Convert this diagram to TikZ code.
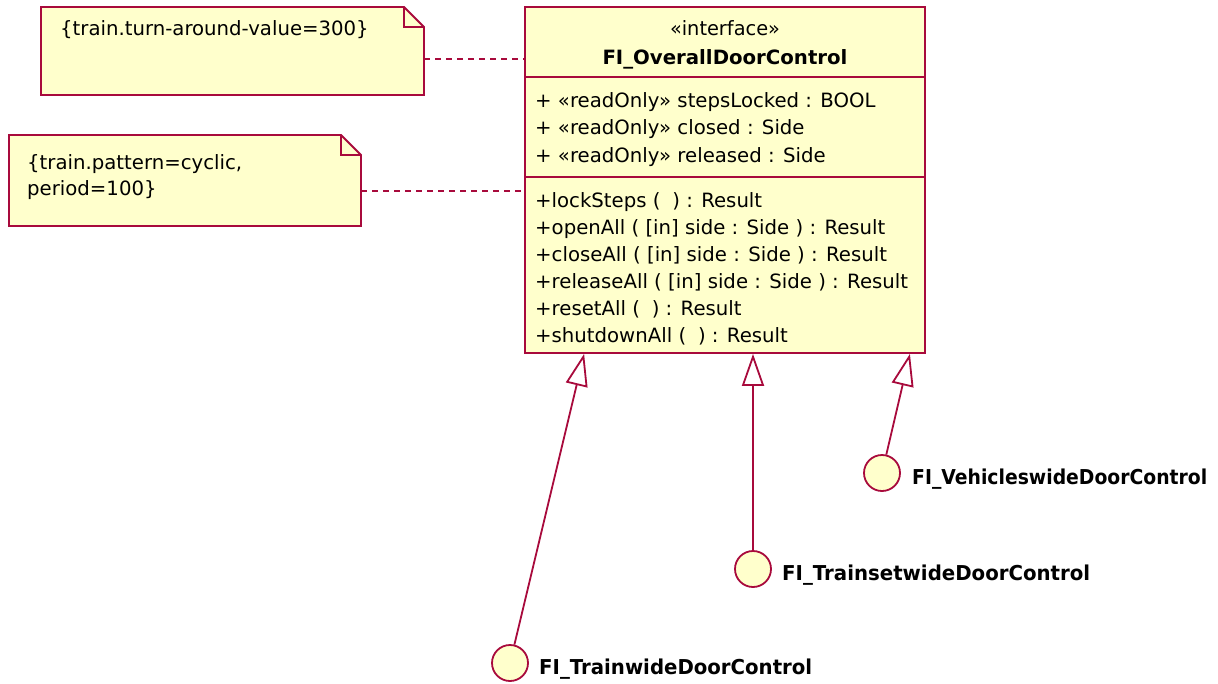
\documentclass[tikz,border=0pt]{standalone}
\usepackage{fontspec}
\setmainfont{DejaVu Sans}
\usetikzlibrary{arrows.meta}
\definecolor{umlred}{RGB}{168,10,60}
\definecolor{umlfill}{RGB}{255,255,204}
\tikzset{
  txt/.style={inner sep=0pt, font=\fontsize{19.7}{27}\selectfont, text=black},
  outline/.style={draw=umlred, line width=1.8pt, fill=umlfill, line join=miter},
  sep/.style={draw=umlred, line width=1.8pt},
  link/.style={draw=umlred, line width=1.6pt, dash pattern=on 6pt off 5pt},
  realize/.style={draw=umlred, line width=1.8pt, -{Triangle[open, length=32pt, width=22pt, fill=white]}},
  lolli/.style={circle, draw=umlred, line width=1.8pt, fill=umlfill, minimum size=36pt, inner sep=0pt},
  lolilabel/.style={inner sep=0pt, anchor=base west, font=\fontsize{20.5}{22}\bfseries},
}
\newcommand{\gap}{\hspace*{0.6em}}
\begin{document}
\begin{tikzpicture}[x=1pt, y=-1pt]
\useasboundingbox (0,0) rectangle (1218,683);

% class box
\node[outline, minimum width=400pt, minimum height=346pt, inner sep=0pt] (cls) at (725,180) {};
\draw[sep] (525,77) -- (925,77);
\draw[sep] (525,177) -- (925,177);
\node[txt, anchor=base] (stereo) at (725,35) {\resizebox{110pt}{\height}{«interface»}};
\node[txt, anchor=base] (title) at (725,64) {\resizebox{245pt}{\height}{\bfseries FI\_OverallDoorControl}};

\node[txt, anchor=base west] (a1) at (535,107) {+ «readOnly» stepsLocked : BOOL};
\node[txt, anchor=base west] (a2) at (535,134) {+ «readOnly» closed : Side};
\node[txt, anchor=base west] (a3) at (535,162) {+ «readOnly» released : Side};

\node[txt, anchor=base west] (o1) at (535,207) {+lockSteps (\gap) : Result};
\node[txt, anchor=base west] (o2) at (535,234) {+openAll ( [in] side : Side ) : Result};
\node[txt, anchor=base west] (o3) at (535,261) {+closeAll ( [in] side : Side ) : Result};
\node[txt, anchor=base west] (o4) at (535,288) {+releaseAll ( [in] side : Side ) : Result};
\node[txt, anchor=base west] (o5) at (535,315) {+resetAll (\gap) : Result};
\node[txt, anchor=base west] (o6) at (535,342) {+shutdownAll (\gap) : Result};

% note 1
\path[outline] (41,7) -- (404,7) -- (424,27) -- (424,95) -- (41,95) -- cycle;
\draw[sep] (404,7) -- (404,27) -- (424,27);
\node[minimum width=383pt, minimum height=88pt, inner sep=0pt] (n1) at (232.5,51) {};
\node[txt, anchor=base west] (n1t) at (60,35) {\{train.turn-around-value=300\}};

% note 2
\path[outline] (9,135) -- (341,135) -- (361,155) -- (361,226) -- (9,226) -- cycle;
\draw[sep] (341,135) -- (341,155) -- (361,155);
\node[minimum width=352pt, minimum height=91pt, inner sep=0pt] (n2) at (185,180.5) {};
\node[txt, anchor=base west] (n2t1) at (27,169) {\{train.pattern=cyclic,};
\node[txt, anchor=base west] (n2t2) at (27,195) {period=100\}};

% note links
\draw[link] ([yshift=-8pt]n1.east) -- ([yshift=-8pt]n1.east -| cls.west);
\draw[link] ([yshift=-10.5pt]n2.east) -- ([yshift=-10.5pt]n2.east -| cls.west);

% lollipops
\node[lolli] (c1) at (510,663) {};
\node[lolli] (c2) at (753,569) {};
\node[lolli] (c3) at (882,473) {};
\node[lolilabel] (l1) at (539,674) {\resizebox{273pt}{\height}{FI\_TrainwideDoorControl}};
\node[lolilabel] (l2) at (782,580) {\resizebox{308pt}{\height}{FI\_TrainsetwideDoorControl}};
\node[lolilabel] (l3) at (912,484) {\resizebox{295pt}{\height}{FI\_VehicleswideDoorControl}};

\coordinate (t1) at ([xshift=60pt]cls.south west);
\coordinate (t2) at ([xshift=28pt]cls.south);
\coordinate (t3) at ([xshift=-16pt]cls.south east);
\draw[realize] (c1) -- (t1);
\draw[realize] (c2) -- (t2);
\draw[realize] (c3) -- (t3);
\end{tikzpicture}
\end{document}
